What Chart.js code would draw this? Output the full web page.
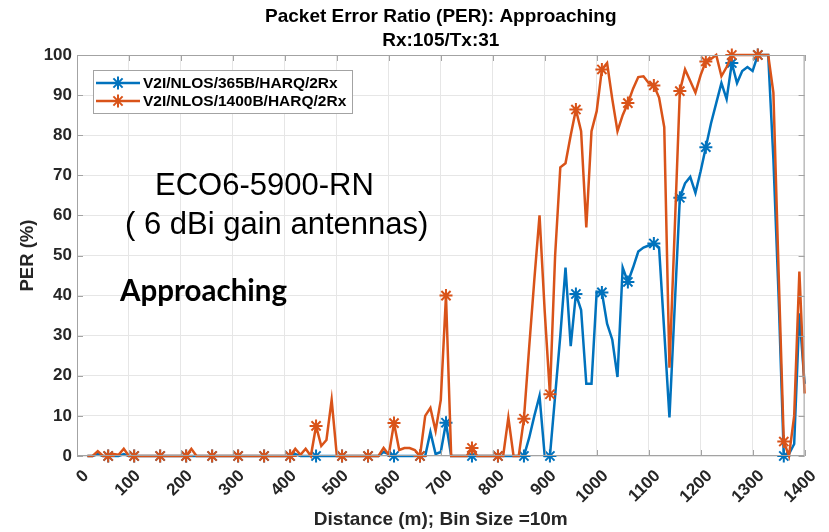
<!DOCTYPE html>
<html>
<head>
<meta charset="utf-8">
<script src="https://cdn.jsdelivr.net/npm/chart.js@4/dist/chart.umd.min.js"></script>
<style>
html,body{margin:0;padding:0;background:#fff;}
#wrap{width:829px;height:532px;}
</style>
</head>
<body>
<div id="wrap"><canvas id="perChart" width="829" height="532"></canvas></div>
<script>
// distance bins (m), bin size = 10 m
const distances=[
20,30,40,50,60,70,80,90,100,110,
120,130,140,150,160,170,180,190,200,210,
220,230,240,250,260,270,280,290,300,310,
320,330,340,350,360,370,380,390,400,410,
420,430,440,450,460,470,480,490,500,510,
520,530,540,550,560,570,580,590,600,610,
620,630,640,650,660,670,680,690,700,710,
720,730,740,750,760,770,780,790,800,810,
820,830,840,850,860,870,880,890,900,910,
920,930,940,950,960,970,980,990,1000,1010,
1020,1030,1040,1050,1060,1070,1080,1090,1100,1110,
1120,1130,1140,1150,1160,1170,1180,1190,1200,1210,
1220,1230,1240,1250,1260,1270,1280,1290,1300,1310,
1320,1330,1340,1350,1360,1370,1380,1390,1400];

// PER (%) - 365 byte packets
const per365=[
0,0,0.5,0,0,0,0,0.5,0,0,
0,0,0,0,0,0,0,0,0,0,
0,0,0,0,0,0,0,0,0,0,
0,0,0,0,0,0,0,0,0,0,
0.5,0,0,0,0,0,0,0,0,0,
0,0,0,0,0,0,0,1,0.5,0,
0,0,0,0,0,0,6,0.5,1,8.3,
0,0,0,0,0,0,0,0,0,0,
0,0,0,0,0,4.5,10,15,0,0,
15,30,47,27.4,40.4,36.4,18,18,41,40.8,
33,29,19.7,47,43.4,47,51,52,52.5,53,
52,31,9.6,37,64.4,68,69.6,65.6,71,77,
83,88,93,89,98,93,96,97,96,100,
100,100,74,40,0,0.5,3,35.6,18];

// PER (%) - 1400 byte packets
const per1400=[
0,0,1.2,0,0,0.5,0.3,1.8,0,0,
0,0,0,0,0,0,0,0,0,0,
1.8,0,0,0,0,0,0,0,0,0,
0,0,0,0,0,0,0,0,0,0,
1.8,0.3,1.8,0,7.5,2.5,4,14,0,0,
0,0,0,0,0,0,0,2,0.3,8.2,
1.5,2,2,1.5,0,10,12,6.3,14,40,
0,0,0,0,2,0,0,0,0,0,
0,9.6,0,0,9.3,27,44,60,36,15.4,
50,72,73,80,86.4,81,57,81,86,96.4,
98,89,81,85,88,91.6,94.5,94.7,93,92.4,
89.4,82,22,56,91,96.4,93.5,90.6,95,98.4,
99,100,94.7,97,100,100,100,100,100,100,
100,100,90.6,46,3.6,0,10,46,15.6];

const xTicks=[0,100,200,300,400,500,600,700,800,900,1000,1100,1200,1300,1400];
const yTicks=[0,10,20,30,40,50,60,70,80,90,100];
const seriesNames=['V2I/NLOS/365B/HARQ/2Rx','V2I/NLOS/1400B/HARQ/2Rx'];
const titleLines=['Packet Error Ratio (PER): Approaching','Rx:105/Tx:31'];

const BLUE='#0072BD', ORANGE='#D95319', FRAME='#a3a3a3';
const FONT="'Liberation Sans', Arial, sans-serif";

// a marker every 5th bin, like the MATLAB plot
function markerRadius(ctx){
  const d=distances[ctx.dataIndex];
  return (d>=60 && (d-60)%50===0) ? 6.5 : 0;
}

function star(ctx,x,y,r){
  const d=r*Math.SQRT1_2;
  ctx.beginPath();
  ctx.moveTo(x-r,y);ctx.lineTo(x+r,y);
  ctx.moveTo(x,y-r);ctx.lineTo(x,y+r);
  ctx.moveTo(x-d,y-d);ctx.lineTo(x+d,y+d);
  ctx.moveTo(x-d,y+d);ctx.lineTo(x+d,y-d);
  ctx.stroke();
}

const overlay={
  id:'overlay',
  afterDatasetsDraw(chart){
    const {ctx,chartArea:a,scales:{x,y}}=chart;
    ctx.save();
    ctx.strokeStyle=FRAME;ctx.lineWidth=1;
    ctx.strokeRect(a.left+0.5,a.top+0.5,a.right-a.left-1,a.bottom-a.top-1);
    ctx.beginPath();
    xTicks.forEach(v=>{
      const p=Math.round(x.getPixelForValue(v))+0.5;
      ctx.moveTo(p,a.bottom);ctx.lineTo(p,a.bottom-6);
      ctx.moveTo(p,a.top);ctx.lineTo(p,a.top+6);
    });
    yTicks.forEach(v=>{
      const p=Math.round(y.getPixelForValue(v))+0.5;
      ctx.moveTo(a.left,p);ctx.lineTo(a.left+6,p);
      ctx.moveTo(a.right,p);ctx.lineTo(a.right-6,p);
    });
    ctx.stroke();
    ctx.restore();
  },
  afterDraw(chart){
    const ctx=chart.ctx, a=chart.chartArea;
    ctx.save();
    // title, centred over the axes
    ctx.fillStyle='#000';ctx.textAlign='center';ctx.textBaseline='middle';
    ctx.font='bold 19px '+FONT;
    titleLines.forEach((t,i)=>ctx.fillText(t,(a.left+a.right)/2,17+i*24));
    // legend
    ctx.textAlign='left';
    ctx.fillStyle='#fff';ctx.strokeStyle=FRAME;ctx.lineWidth=1;
    ctx.fillRect(93,70,259,43);
    ctx.strokeRect(93.5,70.5,259,43);
    [[BLUE,83],[ORANGE,101]].forEach(([c,ly],i)=>{
      ctx.strokeStyle=c;ctx.lineWidth=2.5;
      ctx.beginPath();ctx.moveTo(96,ly);ctx.lineTo(140,ly);ctx.stroke();
      ctx.lineWidth=2;star(ctx,118,ly,6.5);
      ctx.fillStyle='#000';ctx.font='bold 15.5px '+FONT;
      ctx.textBaseline='middle';
      ctx.fillText(seriesNames[i],143,ly+1);
    });
    // notes on the plot
    ctx.fillStyle='#000';ctx.textBaseline='alphabetic';
    ctx.font='31px '+FONT;
    ctx.fillText('ECO6-5900-RN',155,195);
    ctx.fillText('( 6 dBi gain antennas)',125,234);
    ctx.font="bold 29.5px Lato, 'Open Sans', sans-serif";
    ctx.fillText('Approaching',120,301);
    ctx.restore();
  }
};

function series(vals,name,color,order){
  return {
    label:name,
    data:distances.map((d,i)=>({x:d,y:vals[i]})),
    borderColor:color,backgroundColor:color,
    borderWidth:2.5,tension:0,
    pointStyle:'star',pointRadius:markerRadius,pointBorderWidth:2,
    pointBorderColor:color,pointHoverRadius:0,
    clip:false,order:order
  };
}

new Chart(document.getElementById('perChart'),{
  type:'line',
  data:{datasets:[
    series(per365,seriesNames[0],BLUE,1),
    series(per1400,seriesNames[1],ORANGE,0)
  ]},
  options:{
    responsive:false,animation:false,devicePixelRatio:1,
    layout:{padding:{top:55,right:23}},
    plugins:{
      legend:{display:false},
      tooltip:{enabled:false},
      title:{display:false}
    },
    scales:{
      x:{
        type:'linear',min:0,max:1400,
        afterBuildTicks:s=>{s.ticks=xTicks.map(v=>({value:v}));},
        afterFit:s=>{s.height=76;},
        grid:{color:'#e6e6e6',drawTicks:false},
        border:{display:false},
        ticks:{minRotation:45,maxRotation:45,padding:10,labelOffset:9,color:'#262626',
          callback:v=>String(v),
          font:{family:FONT,size:17,weight:'bold'}},
        title:{display:true,text:'Distance (m); Bin Size =10m',color:'#262626',
          font:{family:FONT,size:19,weight:'bold'},padding:{top:0,bottom:1}}
      },
      y:{
        min:0,max:100,
        afterBuildTicks:s=>{s.ticks=yTicks.map(v=>({value:v}));},
        afterFit:s=>{s.width=77;},
        grid:{color:'#e6e6e6',drawTicks:false},
        border:{display:false},
        ticks:{padding:5,color:'#262626',callback:v=>String(v),
          font:{family:FONT,size:17,weight:'bold'}},
        title:{display:true,text:'PER (%)',color:'#262626',
          font:{family:FONT,size:18.5,weight:'bold'},padding:{top:17,bottom:0}}
      }
    }
  },
  plugins:[overlay]
});
</script>
</body>
</html>
